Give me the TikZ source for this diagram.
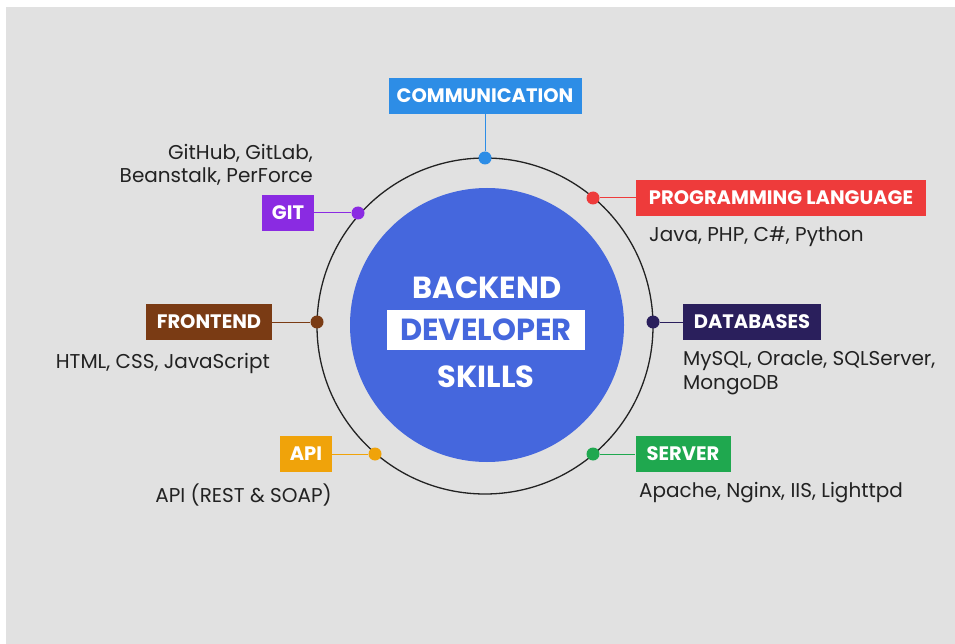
\documentclass[tikz,border=0pt]{standalone}
\usepackage{fontspec}
\setmainfont{Poppins}
\definecolor{bgray}{HTML}{E1E1E1}
\definecolor{txt}{HTML}{222222}
\definecolor{core}{HTML}{4567DD}
\definecolor{comm}{HTML}{2D8DE6}
\definecolor{gitc}{HTML}{8A2BE2}
\definecolor{front}{HTML}{7A3B14}
\definecolor{apic}{HTML}{F0A30A}
\definecolor{prog}{HTML}{EE3B3B}
\definecolor{dbc}{HTML}{2A1F5C}
\definecolor{serv}{HTML}{1FA84F}
\begin{document}
\begin{tikzpicture}[x=1pt,y=-1pt,
    skill/.style={font=\fontsize{19.5}{19.5}\selectfont\bfseries, text=white, inner sep=0pt, minimum height=36pt},
    dot/.style={circle, inner sep=0pt, minimum size=13pt},
    info/.style={font=\fontsize{20}{23.5}\selectfont, text=txt, inner sep=0pt},
    title/.style={font=\fontsize{30.5}{30.5}\selectfont\bfseries, inner sep=0pt}]
    \useasboundingbox (0,0) rectangle (955,644);
    \fill[white] (0,0) rectangle (955,644);
    \fill[bgray] (6,7) rectangle (955,644);
    % ring and core
    \draw[txt, line width=1.3pt] (485,326) circle[radius=168pt];
    \fill[core] (487,325) circle[radius=137pt];
    \node[title, text=white] (back) at (487,288) {BACKEND};
    \node[title, fill=white, text=core, minimum width=198pt, minimum height=40pt] (dev) at (486,330) {DEVELOPER};
    \node[title, text=white] (skills) at (486,377) {SKILLS};
    % dots on the ring
    \node[dot, fill=comm] (commdot) at (485,158) {};
    \node[dot, fill=gitc] (gitdot) at (358,213) {};
    \node[dot, fill=prog] (progdot) at (593,198) {};
    \node[dot, fill=front] (frontdot) at (317,322) {};
    \node[dot, fill=dbc] (dbdot) at (653,322) {};
    \node[dot, fill=apic] (apidot) at (375,454) {};
    \node[dot, fill=serv] (servdot) at (593,454) {};
    % skill boxes
    \node[skill, fill=comm, minimum width=193pt] (commbox) at (485,96) {COMMUNICATION};
    \node[skill, fill=gitc, minimum width=52pt] (gitbox) at (288,213) {GIT};
    \node[skill, fill=prog, minimum width=290pt] (progbox) at (781,198) {PROGRAMMING LANGUAGE};
    \node[skill, fill=front, minimum width=126pt] (frontbox) at (209,322) {FRONTEND};
    \node[skill, fill=dbc, minimum width=138pt] (dbbox) at (752,322) {DATABASES};
    \node[skill, fill=apic, minimum width=52pt] (apibox) at (306,454) {API};
    \node[skill, fill=serv, minimum width=95pt] (servbox) at (683,454) {SERVER};
    % connectors
    \draw[comm, line width=1pt] (commbox) -- (commdot);
    \draw[gitc, line width=1pt] (gitbox) -- (gitdot);
    \draw[prog, line width=1pt] (progdot) -- (progbox);
    \draw[front, line width=1pt] (frontbox) -- (frontdot);
    \draw[dbc, line width=1pt] (dbdot) -- (dbbox);
    \draw[apic, line width=1pt] (apibox) -- (apidot);
    \draw[serv, line width=1pt] (servdot) -- (servbox);
    % tools under each skill
    \node[info, anchor=east, align=right] (gittools) at (313,165) {GitHub, GitLab,\\Beanstalk, PerForce};
    \node[info, anchor=west] (progtools) at (649,237) {Java, PHP, C\#, Python};
    \node[info, anchor=east] (fronttools) at (270,363) {HTML, CSS, JavaScript};
    \node[info, anchor=west, align=left] (dbtools) at (683,373) {MySQL, Oracle, SQLServer,\\MongoDB};
    \node[info, anchor=east] (apitools) at (332,495) {API (REST \& SOAP)};
    \node[info, anchor=west] (servtools) at (639,493) {Apache, Nginx, IIS, Lighttpd};
\end{tikzpicture}
\end{document}
